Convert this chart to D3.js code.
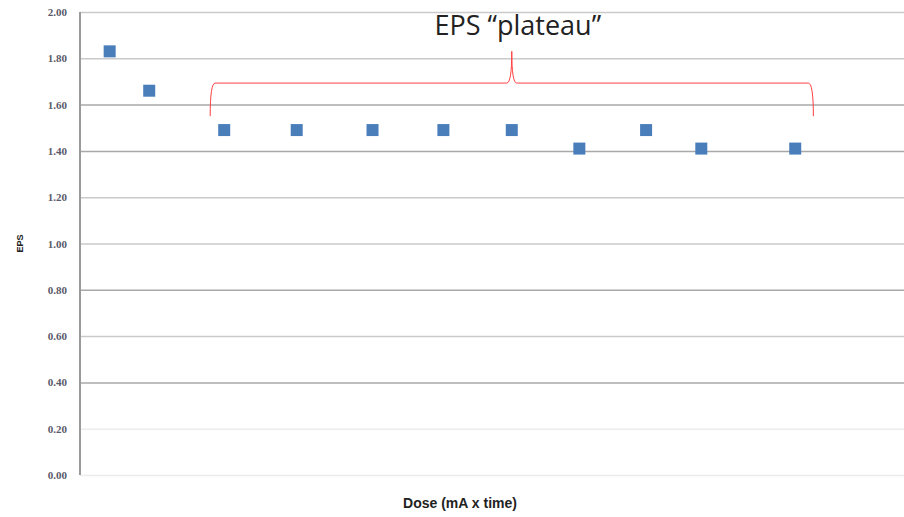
<!DOCTYPE html>
<html>
<head>
<meta charset="utf-8">
<script src="https://cdn.jsdelivr.net/npm/d3@7"></script>
<style>
  body { margin: 0; background: #fff; }
  svg { display: block; }
</style>
</head>
<body>
<div id="wrapper"></div>
<script>
// dose has no tick labels in the source, so values are relative units
const doses = [3.6, 8.4, 17.5, 26.3, 35.5, 44.1, 52.4, 60.6, 68.7, 75.4, 86.8]
const epsValues = [1.83, 1.66, 1.49, 1.49, 1.49, 1.49, 1.49, 1.41, 1.49, 1.41, 1.41]
const yTicks = [0, 0.2, 0.4, 0.6, 0.8, 1.0, 1.2, 1.4, 1.6, 1.8, 2.0]
const plateau = { fromDose: 15.8, toDose: 89.0, label: "EPS \u201cplateau\u201d" }

const drawChart = () => {
  const data = doses.map((d, i) => ({ dose: d, eps: epsValues[i] }))
  const xAccessor = (d) => d.dose
  const yAccessor = (d) => d.eps

  const dimensions = {
    width: 904,
    height: 517,
    margin: { top: 12, right: 0, bottom: 42, left: 80 },
  }
  dimensions.boundedWidth =
    dimensions.width - dimensions.margin.left - dimensions.margin.right
  dimensions.boundedHeight =
    dimensions.height - dimensions.margin.top - dimensions.margin.bottom

  const svg = d3
    .select("#wrapper")
    .append("svg")
    .attr("width", dimensions.width)
    .attr("height", dimensions.height)

  const bounds = svg
    .append("g")
    .attr("transform", `translate(${dimensions.margin.left},${dimensions.margin.top})`)

  const xScale = d3.scaleLinear().domain([0, 100]).range([0, dimensions.boundedWidth])
  const yScale = d3.scaleLinear().domain([0, 2]).range([dimensions.boundedHeight, 0])

  // gridlines (scanned look: some lines print darker than others)
  const darker = [1.6, 1.4, 0.8, 0.4]
  const lighter = [0.2, 0]
  const yAxisGenerator = d3
    .axisLeft(yScale)
    .tickValues(yTicks)
    .tickFormat(d3.format(".2f"))
    .tickSize(-dimensions.boundedWidth)
    .tickPadding(13)

  const yAxis = bounds.append("g").call(yAxisGenerator)
  yAxis.select(".domain").remove()
  yAxis
    .selectAll(".tick line")
    .attr("stroke", (d) =>
      darker.some((v) => Math.abs(v - d) < 1e-6)
        ? "#a8a8a8"
        : lighter.some((v) => Math.abs(v - d) < 1e-6)
        ? "#ececec"
        : "#cacaca"
    )
    .attr("stroke-width", 1.5)
  yAxis
    .selectAll(".tick text")
    .attr("fill", "#5a5a6a")
    .style("font-family", "'Liberation Serif', serif")
    .style("font-size", "11px")
    .style("font-weight", "bold")

  // vertical axis line
  bounds
    .append("line")
    .attr("x1", 0)
    .attr("x2", 0)
    .attr("y1", yScale(2))
    .attr("y2", yScale(0))
    .attr("stroke", "#9a9a9a")
    .attr("stroke-width", 2)

  // markers
  const size = 12
  bounds
    .selectAll("rect.dot")
    .data(data)
    .join("rect")
    .attr("class", "dot")
    .attr("x", (d) => xScale(xAccessor(d)) - size / 2)
    .attr("y", (d) => yScale(yAccessor(d)) - size / 2)
    .attr("width", size)
    .attr("height", size)
    .attr("fill", "#4a7ebb")

  // plateau brace
  const bx0 = xScale(plateau.fromDose)
  const bx1 = xScale(plateau.toDose)
  const bmid = (bx0 + bx1) / 2
  const bTop = yScale(1.693)
  const bBottom = yScale(1.55)
  const bTip = yScale(1.83)
  const r = 5
  const bracePath = [
    `M${bx0},${bBottom}`,
    `Q${bx0},${bTop} ${bx0 + r},${bTop}`,
    `L${bmid - r},${bTop}`,
    `Q${bmid},${bTop} ${bmid},${bTip}`,
    `Q${bmid},${bTop} ${bmid + r},${bTop}`,
    `L${bx1 - r},${bTop}`,
    `Q${bx1},${bTop} ${bx1},${bBottom}`,
  ].join(" ")
  bounds
    .append("path")
    .attr("d", bracePath)
    .attr("fill", "none")
    .attr("stroke", "#ff4040")
    .attr("stroke-width", 1)

  bounds
    .append("text")
    .attr("x", bmid + 6)
    .attr("y", yScale(1.9))
    .attr("text-anchor", "middle")
    .attr("fill", "#222")
    .style("font-family", "'Open Sans', 'Liberation Sans', sans-serif")
    .style("font-size", "27px")
    .text(plateau.label)

  // axis titles
  svg
    .append("text")
    .attr("x", 460)
    .attr("y", 508)
    .attr("text-anchor", "middle")
    .attr("fill", "#222")
    .style("font-family", "'Liberation Sans', Arial, sans-serif")
    .style("font-size", "14px")
    .style("font-weight", "bold")
    .text("Dose (mA x time)")

  svg
    .append("text")
    .attr("transform", `translate(23,${dimensions.margin.top + yScale(1.0)}) rotate(-90)`)
    .attr("text-anchor", "middle")
    .attr("fill", "#222")
    .style("font-family", "'Liberation Sans', Arial, sans-serif")
    .style("font-size", "9px")
    .style("font-weight", "bold")
    .text("EPS")
}

drawChart()
</script>
</body>
</html>
